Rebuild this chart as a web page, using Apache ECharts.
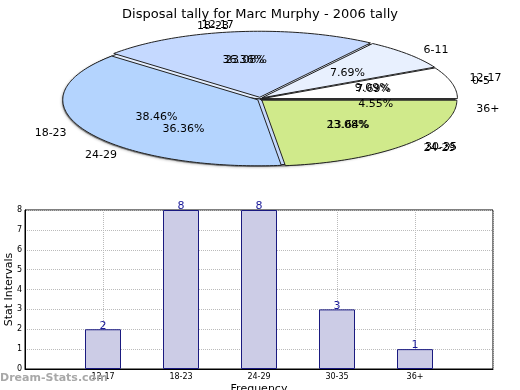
<!DOCTYPE html>
<html><head><meta charset="utf-8">
<script src="https://cdn.jsdelivr.net/npm/echarts@6/dist/echarts.min.js"></script>
<style>html,body{margin:0;padding:0;background:#fff}#c{width:520px;height:390px}</style>
</head><body><div id="c"></div>
<script>
// ---- data ----
const titleText = 'Disposal tally for Marc Murphy - 2006 tally';
const pieACats = ['12-17', '18-23', '24-29', '30-35', '36+'];
const pieAVals = [2, 8, 8, 3, 1];
const pieBCats = ['0-5', '6-11', '12-17', '18-23', '24-29'];
const pieBVals = [1, 1, 3, 5, 3];
const barCats = ['12-17', '18-23', '24-29', '30-35', '36+'];
const barVals = [2, 8, 8, 3, 1];
const yTicks = [0, 1, 2, 3, 4, 5, 6, 7, 8];

// ---- styles ----
const FONT = '"DejaVu Sans", sans-serif';
const pieAColors = ['#ffffff', '#e4eefe', '#c4d8fd', '#c9dcff', '#555555'];
const pieBColors = ['#ffffff', '#e8f0fe', '#c5d9ff', '#b4d4fe', '#d0ea8b'];
const CX = 260, CY = 99, RX = 195, RY = 66;

function angles(vals, i) {
  const total = vals.reduce((a, b) => a + b, 0);
  let s = 0;
  for (let k = 0; k < i; k++) s += vals[k];
  return [s / total * Math.PI * 2, (s + vals[i]) / total * Math.PI * 2, vals[i] / total * 100];
}
function slicePts(a0, a1, ox, oy) {
  const pts = [[CX + ox, CY + oy]];
  const n = Math.max(2, Math.ceil((a1 - a0) / 0.02));
  for (let k = 0; k <= n; k++) {
    const t = a0 + (a1 - a0) * k / n;
    pts.push([CX + ox + RX * Math.cos(t), CY + oy - RY * Math.sin(t)]);
  }
  return pts;
}
function pieShapes(vals, colors, explode) {
  return function (params, api) {
    const i = params.dataIndex;
    const [a0, a1] = angles(vals, i);
    const m = (a0 + a1) / 2;
    const ox = explode * Math.cos(m), oy = -explode * 0.7 * Math.sin(m);
    return {
      type: 'polygon',
      shape: { points: slicePts(a0, a1, ox, oy) },
      style: { fill: colors[i], stroke: '#222', lineWidth: 1 }
    };
  };
}
function pieLabels(vals, cats) {
  return function (params, api) {
    const i = params.dataIndex;
    const [a0, a1, pct] = angles(vals, i);
    const m = (a0 + a1) / 2;
    const c = Math.cos(m), s = Math.sin(m);
    return {
      type: 'group',
      children: [
        { type: 'text', style: { text: pct.toFixed(2) + '%', x: CX + RX * 0.6 * c, y: CY - RY * 0.6 * s,
            align: 'center', verticalAlign: 'middle', fill: '#000', font: '11px ' + FONT } },
        { type: 'text', style: { text: cats[i], x: CX + RX * 1.12 * c, y: CY - RY * 1.12 * s,
            align: c >= 0 ? 'left' : 'right', verticalAlign: 'middle', fill: '#000', font: '11px ' + FONT } }
      ]
    };
  };
}

const chart = echarts.init(document.getElementById('c'), null, { renderer: 'canvas' });
chart.setOption({
  animation: false,
  backgroundColor: '#fff',
  title: { text: titleText, left: 'center', top: 3,
    textStyle: { fontSize: 13, fontWeight: 'normal', color: '#000', fontFamily: FONT } },
  graphic: [{ type: 'text', left: 0, top: 373, z: 10,
    style: { text: 'Dream-Stats.com', fill: '#a8a8a8', font: 'bold 11px ' + FONT } }],
  grid: { left: 25, right: 27, top: 210, bottom: 21, show: true, borderColor: '#000', borderWidth: 1,
    containLabel: false, outerBoundsMode: 'none' },
  xAxis: {
    type: 'category', data: [''].concat(barCats, ['']), boundaryGap: false,
    axisLine: { show: true, lineStyle: { color: '#000' } }, axisTick: { show: false },
    axisLabel: { fontSize: 8, color: '#000', margin: 4, fontFamily: FONT },
    splitLine: { show: true, lineStyle: { color: '#bbb', type: 'dotted' } },
    name: 'Frequency', nameLocation: 'middle', nameGap: 15, nameMoveOverlap: false,
    nameTextStyle: { fontSize: 11, color: '#000', fontFamily: FONT }
  },
  yAxis: {
    type: 'value', min: yTicks[0], max: yTicks[yTicks.length - 1], interval: 1,
    axisLine: { show: true, lineStyle: { color: '#000' } }, axisTick: { show: false },
    axisLabel: { fontSize: 8, color: '#000', margin: 3, fontFamily: FONT },
    splitLine: { show: true, lineStyle: { color: '#bbb', type: 'dotted' } },
    name: 'Stat Intervals', nameLocation: 'middle', nameGap: 10, nameMoveOverlap: false,
    nameTextStyle: { fontSize: 11, color: '#000', fontFamily: FONT }
  },
  series: [
    { type: 'custom', coordinateSystem: 'none', silent: true, z: 1, data: [1],
      renderItem: function () {
        return { type: 'polygon', shape: { points: slicePts(0, Math.PI * 2, -3, 2) },
          style: { fill: '#777', shadowBlur: 3, shadowColor: 'rgba(0,0,0,0.4)' } };
      } },
    { type: 'custom', coordinateSystem: 'none', silent: true, z: 2, data: pieAVals,
      renderItem: pieShapes(pieAVals, pieAColors, 0) },
    { type: 'custom', coordinateSystem: 'none', silent: true, z: 3, data: pieBVals,
      renderItem: pieShapes(pieBVals, pieBColors, 2.5) },
    { type: 'custom', coordinateSystem: 'none', silent: true, z: 4, data: pieAVals,
      renderItem: pieLabels(pieAVals, pieACats) },
    { type: 'custom', coordinateSystem: 'none', silent: true, z: 4, data: pieBVals,
      renderItem: pieLabels(pieBVals, pieBCats) },
    { type: 'bar', data: [null].concat(barVals, [null]), barWidth: 36,
      itemStyle: { color: '#cccce6', borderColor: '#1a1a80', borderWidth: 1 },
      label: { show: true, position: 'top', distance: -2, color: '#1a1a99', fontSize: 11, fontFamily: FONT } }
  ]
});
</script></body></html>
